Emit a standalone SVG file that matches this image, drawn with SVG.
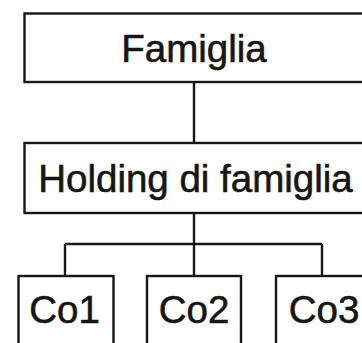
<svg xmlns="http://www.w3.org/2000/svg" width="362" height="343" viewBox="0 0 362 343">
  <style>
    .box { fill: #ffffff; stroke: #161616; stroke-width: 2.4; }
    .wire { fill: none; stroke: #161616; stroke-width: 2.4; }
    .label { font-family: "Liberation Sans", Arial, Helvetica, sans-serif; font-size: 38.5px; fill: #161616; stroke: #161616; stroke-width: 0.6; text-anchor: middle; }
  </style>
  <rect width="362" height="343" fill="#ffffff"/>

  <!-- connectors -->
  <g id="connectors" class="wire">
    <line x1="194" y1="82" x2="194" y2="143"/>
    <line x1="194" y1="213" x2="194" y2="244"/>
    <line x1="65" y1="244" x2="322" y2="244"/>
    <line x1="65" y1="244" x2="65" y2="276"/>
    <line x1="194" y1="244" x2="194" y2="276"/>
    <line x1="322" y1="244" x2="322" y2="276"/>
  </g>

  <!-- top level -->
  <g id="famiglia">
    <rect class="box" x="24.5" y="13.5" width="342" height="68.5"/>
    <text class="label" x="194" y="62">Famiglia</text>
  </g>

  <!-- holding -->
  <g id="holding">
    <rect class="box" x="24.5" y="143" width="342" height="70"/>
    <text class="label" x="195.5" y="192">Holding di famiglia</text>
  </g>

  <!-- operating companies -->
  <g id="co1">
    <rect class="box" x="18.5" y="276" width="95" height="80"/>
    <text class="label" x="64.5" y="323">Co1</text>
  </g>
  <g id="co2">
    <rect class="box" x="147" y="276" width="94" height="80"/>
    <text class="label" x="194" y="323">Co2</text>
  </g>
  <g id="co3">
    <rect class="box" x="276" y="276" width="95" height="80"/>
    <text class="label" x="324" y="323">Co3</text>
  </g>
</svg>
